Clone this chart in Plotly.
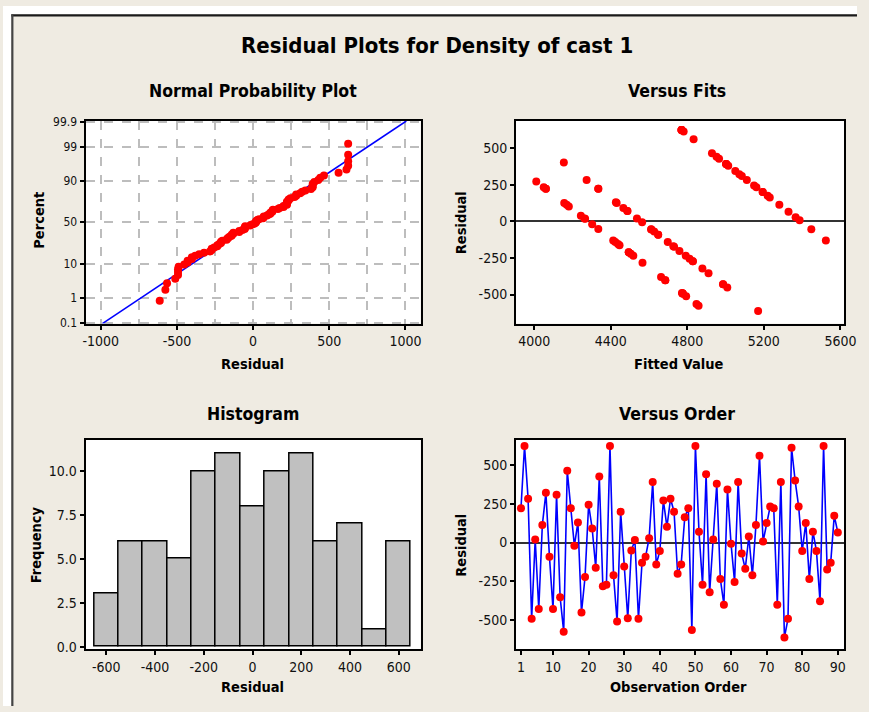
import plotly.graph_objects as go
from statistics import NormalDist

# Residuals of the density model, in observation order
residuals = [222, 624, 283, -493, 20, -430, 113, 322, -91, -430,
             309, -354, -576, 465, 222, -20, 130, -452, -222, 245,
             91, -163, 428, -283, -272, 624, -211, -511, 200, -155,
             -489, -52, 17, -493, -130, -91, 28, 391, -141, -55,
             272, 102, 283, 200, -202, -141, 163, 222, -565, 624,
             70, -272, 441, -322, 20, 380, -235, -402, 343, -7,
             -255, 391, -70, -170, 39, -211, 113, 561, 7, 126,
             233, 222, -402, 391, -613, -493, 613, 402, 233, -54,
             126, -235, 70, -54, -380, 624, -174, -130, 174, 65]

# Fitted values for the same observations
fitted = [4061, 4770, 4274, 4776, 4537, 4987, 5281, 5072, 4648, 4987,
          5085, 4911, 4859, 4929, 4061, 4303, 4427, 5009, 4505, 5149,
          4466, 4446, 4966, 4566, 4829, 4770, 4494, 4794, 5194, 4438,
          4772, 4335, 4266, 4776, 4413, 4648, 5366, 5003, 4424, 4612,
          4011, 4181, 5111, 5194, 4759, 4698, 5231, 4335, 4848, 4770,
          4487, 4829, 4953, 4879, 4263, 5014, 4792, 4685, 5051, 4564,
          4812, 5003, 4627, 4727, 4244, 4494, 4170, 4833, 5387, 4157,
          4050, 4335, 4685, 5003, 5170, 4776, 4781, 4155, 5161, 5448,
          4431, 4518, 4487, 4611, 4663, 4770, 4731, 5524, 5220, 5329]

order = list(range(1, len(residuals) + 1))

prob_ticks = [0.1, 1, 10, 50, 90, 99, 99.9]
prob_labels = ["0.1", "1", "10", "50", "90", "99", "99.9"]
npp_x_ticks = [-1000, -500, 0, 500, 1000]
fit_ticks = [4000, 4400, 4800, 5200, 5600]
res_ticks = [-500, -250, 0, 250, 500]
hist_x_ticks = [-600, -400, -200, 0, 200, 400, 600]
hist_y_ticks = [0, 2.5, 5, 7.5, 10]
order_ticks = [1, 10, 20, 30, 40, 50, 60, 70, 80, 90]

W, H = 869, 712
BG = "#EFEBE2"
FONT = "DejaVu Sans Condensed, DejaVu Sans, sans-serif"
RED = "#FF0000"
BLUE = "#0000FF"

nd = NormalDist()
n = len(residuals)
sorted_res = sorted(residuals)
ranks_z = [nd.inv_cdf((i - 0.3) / (n + 0.4)) for i in range(1, n + 1)]
mean = sum(residuals) / n
sd = (sum((r - mean) ** 2 for r in residuals) / (n - 1)) ** 0.5
z_lo, z_hi = nd.inv_cdf(0.0009), nd.inv_cdf(0.9991)
line_x = [mean + sd * z_lo, mean + sd * z_hi]
line_z = [z_lo, z_hi]


def px(x):
    return x / W


def py(y):
    return 1 - y / H


def hyphen_labels(vals, fmt="{:g}"):
    return [fmt.format(v).replace("\u2212", "-") for v in vals]


fig = go.Figure()

# Normal probability plot
fig.add_trace(go.Scatter(x=line_x, y=line_z, mode="lines",
                         line=dict(color=BLUE, width=1.6),
                         xaxis="x", yaxis="y", showlegend=False))
fig.add_trace(go.Scatter(x=sorted_res, y=ranks_z, mode="markers",
                         marker=dict(color=RED, size=8),
                         xaxis="x", yaxis="y", showlegend=False))

# Residuals versus fits
fig.add_trace(go.Scatter(x=fitted, y=residuals, mode="markers",
                         marker=dict(color=RED, size=8),
                         xaxis="x2", yaxis="y2", showlegend=False))

# Histogram of residuals
fig.add_trace(go.Histogram(x=residuals,
                           xbins=dict(start=-650, end=650, size=100),
                           marker=dict(color="#C0C0C0",
                                       line=dict(color="black", width=1.5)),
                           xaxis="x3", yaxis="y3", showlegend=False))

# Residuals versus order
fig.add_trace(go.Scatter(x=order, y=residuals, mode="lines+markers",
                         line=dict(color=BLUE, width=1.6),
                         marker=dict(color=RED, size=8),
                         xaxis="x4", yaxis="y4", showlegend=False))

tick_font = dict(family=FONT, size=14, color="#111")
frame = dict(showline=True, mirror=True, linecolor="black", linewidth=2,
             ticks="outside", ticklen=4, tickwidth=1.5, tickcolor="black",
             tickfont=tick_font, showgrid=False, zeroline=False)
grid = dict(gridcolor="#BDBDBD", griddash="dash", gridwidth=1.5)

dom_left = [px(84), px(425)]
dom_right = [px(522), px(856)]
dom_top = [py(323), py(117)]
dom_bot = [py(654), py(441)]

fig.update_layout(
    width=W, height=H,
    margin=dict(l=0, r=0, t=0, b=0),
    paper_bgcolor=BG,
    plot_bgcolor="white",
    bargap=0,
    font=dict(family=FONT, color="black"),
    xaxis=dict(frame, domain=dom_left, anchor="y", range=[-1100, 1100],
               tickvals=npp_x_ticks, ticktext=hyphen_labels(npp_x_ticks),
               showgrid=True, **grid,
               minor=dict(dtick=250, tick0=0, showgrid=True, **grid)),
    yaxis=dict(frame, domain=dom_top, anchor="x", range=[z_lo, z_hi],
               tickvals=[nd.inv_cdf(p / 100) for p in prob_ticks],
               ticktext=prob_labels,
               tickfont=dict(family=FONT, size=12, color="#111"),
               showgrid=True, **grid),
    xaxis2=dict(frame, domain=dom_right, anchor="y2", range=[3905, 5620],
                tickvals=fit_ticks, ticktext=hyphen_labels(fit_ticks),
                ticklabeloverflow="allow"),
    yaxis2=dict(frame, domain=dom_top, anchor="x2", range=[-698, 685],
                tickvals=res_ticks, ticktext=hyphen_labels(res_ticks),
                zeroline=True, zerolinecolor="#333", zerolinewidth=2),
    xaxis3=dict(frame, domain=dom_left, anchor="y3", range=[-685, 690],
                tickvals=hist_x_ticks, ticktext=hyphen_labels(hist_x_ticks)),
    yaxis3=dict(frame, domain=dom_bot, anchor="x3", range=[-0.13, 11.8],
                tickvals=hist_y_ticks,
                ticktext=hyphen_labels(hist_y_ticks, "{:.1f}")),
    xaxis4=dict(frame, domain=dom_right, anchor="y4", range=[-0.4, 91.8],
                tickvals=order_ticks),
    yaxis4=dict(frame, domain=dom_bot, anchor="x4", range=[-688, 666],
                tickvals=res_ticks, ticktext=hyphen_labels(res_ticks),
                zeroline=True, zerolinecolor="#333", zerolinewidth=2),
)

# Window frame: white strip along the top and left with a dark edge
fig.add_shape(type="rect", xref="paper", yref="paper", x0=0, x1=1, y0=py(8.5), y1=1,
              fillcolor="white", line=dict(width=0), layer="above")
fig.add_shape(type="rect", xref="paper", yref="paper", x0=0, x1=px(8.5), y0=0, y1=1,
              fillcolor="white", line=dict(width=0), layer="above")
fig.add_shape(type="line", xref="paper", yref="paper", x0=px(8.5), x1=1, y0=py(9.5), y1=py(9.5),
              line=dict(color="#1A1A1A", width=2.2), layer="above")
fig.add_shape(type="line", xref="paper", yref="paper", x0=px(9.5), x1=px(9.5), y0=0, y1=py(8.5),
              line=dict(color="#444", width=2.2), layer="above")


def label(text, x, y, size, angle=0):
    fig.add_annotation(text=f"<b>{text}</b>", x=px(x), y=py(y), xref="paper", yref="paper",
                       showarrow=False, textangle=angle, xanchor="center", yanchor="middle",
                       font=dict(family=FONT, size=size, color="black"))


label("Residual Plots for Density of cast 1", 442, 40, 22)
label("Normal Probability Plot", 254, 86, 17.5)
label("Versus Fits", 686, 86, 17.5)
label("Histogram", 254, 415, 17.5)
label("Versus Order", 686, 415, 17.5)

label("Residual", 254, 364, 14.5)
label("Fitted Value", 687, 364, 14.5)
label("Residual", 254, 693, 14.5)
label("Observation Order", 687, 693, 14.5)

label("Percent", 37, 218, 14.5, -90)
label("Residual", 466, 220, 14.5, -90)
label("Frequency", 33, 548, 14.5, -90)
label("Residual", 466, 548, 14.5, -90)

fig.write_html("out.html", config={"displayModeBar": False})
